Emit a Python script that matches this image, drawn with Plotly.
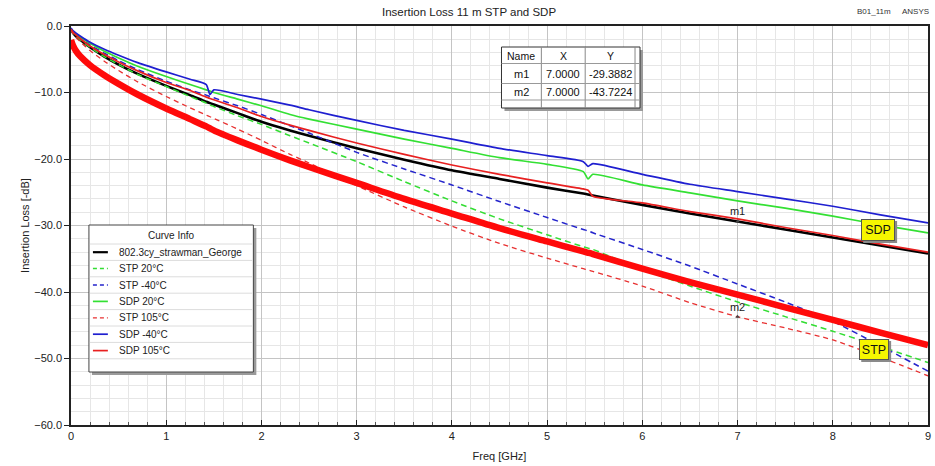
import plotly.graph_objects as go

# ---------------------------------------------------------------------------
# Insertion loss data (dB, negative = loss) sampled over frequency (GHz)
# ---------------------------------------------------------------------------
freq_ghz = [0, 0.02, 0.05, 0.1, 0.2, 0.35, 0.5, 0.7, 1.0, 1.25, 1.42, 1.46, 1.5,
            1.75, 2.0, 2.3, 2.5, 3.0, 3.5, 4.0, 4.5, 5.0, 5.38, 5.43, 5.48,
            6.0, 6.5, 7.0, 7.5, 8.0, 8.5, 9.0]

il_strawman = [-0.5, -1.0, -1.5, -2.1, -3.2, -4.6, -5.8, -7.2, -9.0, -10.4, -11.4, -11.6, -11.8,
               -13.1, -14.4, -15.7, -16.5, -18.4, -20.1, -21.7, -23.0, -24.3, -25.2, -25.35, -25.5,
               -26.9, -28.2, -29.39, -30.6, -31.8, -33.0, -34.2]
il_stp_20 = [-0.5, -1.0, -1.5, -2.1, -3.2, -4.6, -5.8, -7.3, -9.1, -10.6, -11.6, -11.9, -12.1,
             -13.5, -14.8, -16.5, -17.6, -20.4, -23.4, -26.3, -29.0, -31.4, -33.2, -33.4, -33.6,
             -36.6, -39.1, -41.5, -43.7, -45.9, -48.2, -50.6]
il_stp_m40 = [-0.4, -0.85, -1.3, -1.85, -2.85, -4.1, -5.2, -6.55, -8.3, -9.6, -10.4, -10.6, -10.8,
              -12.0, -13.3, -15.0, -16.1, -19.0, -21.5, -23.9, -26.4, -28.8, -30.6, -30.8, -31.1,
              -33.6, -36.1, -38.8, -41.5, -44.4, -48.1, -51.9]
il_sdp_20 = [-0.4, -0.8, -1.2, -1.7, -2.6, -3.8, -4.8, -6.05, -7.6, -8.8, -9.6, -9.8, -10.0,
             -11.0, -12.0, -13.3, -14.0, -15.5, -17.0, -18.4, -19.8, -20.8, -21.9, -23.0, -22.3,
             -23.9, -25.1, -26.3, -27.4, -28.6, -29.9, -31.1]
il_stp_105 = [-0.6, -1.15, -1.7, -2.4, -3.7, -5.3, -6.7, -8.4, -10.6, -12.3, -13.4, -13.65, -13.9,
              -15.5, -17.2, -19.3, -20.6, -24.0, -27.2, -30.1, -32.7, -34.9, -36.5, -36.7, -36.9,
              -39.1, -41.6, -43.7224, -45.4, -47.2, -49.8, -52.6]
il_sdp_m40 = [-0.3, -0.7, -1.05, -1.55, -2.45, -3.5, -4.4, -5.5, -6.9, -8.0, -8.8, -10.3, -9.6,
              -10.3, -11.0, -11.9, -12.6, -14.2, -15.7, -17.0, -18.4, -19.5, -20.4, -21.1, -20.7,
              -22.3, -23.8, -24.9, -26.0, -27.1, -28.4, -29.6]
il_sdp_105 = [-0.5, -0.9, -1.35, -1.95, -3.0, -4.3, -5.4, -6.75, -8.5, -9.7, -10.7, -10.9, -11.1,
              -12.3, -13.6, -14.9, -15.7, -17.6, -19.3, -20.9, -22.3, -23.6, -24.5, -24.7, -25.6,
              -26.6, -27.9, -29.0, -30.3, -31.5, -32.8, -34.0]
il_limit = [-2.1, -2.9, -3.7, -4.6, -5.9, -7.4, -8.7, -10.3, -12.4, -14.0, -15.1, -15.4, -15.7,
            -17.2, -18.6, -20.2, -21.2, -23.6, -26.0, -28.2, -30.4, -32.4, -33.9, -34.1, -34.3,
            -36.5, -38.5, -40.4, -42.3, -44.2, -46.1, -48.0]

series_names = ["802.3cy_strawman_George", "STP 20°C", "STP -40°C", "SDP 20°C",
                "STP 105°C", "SDP -40°C", "SDP 105°C"]
series_values = [il_strawman, il_stp_20, il_stp_m40, il_sdp_20,
                 il_stp_105, il_sdp_m40, il_sdp_105]

marker_names = ["m1", "m2"]
marker_freq = [7.0, 7.0]
marker_il = [-29.3882, -43.7224]

x_ticks = [0, 1, 2, 3, 4, 5, 6, 7, 8, 9]
y_ticks = [0, -10, -20, -30, -40, -50, -60]

# ---------------------------------------------------------------------------
# Styling
# ---------------------------------------------------------------------------
FONT = "Liberation Sans, Arial, sans-serif"
styles = [
    dict(color="#000000", width=2.6, dash="solid"),
    dict(color="#33dd33", width=1.5, dash="6px,4px"),
    dict(color="#2525cc", width=1.5, dash="6px,4px"),
    dict(color="#33e033", width=1.7, dash="solid"),
    dict(color="#e83030", width=1.3, dash="5px,4px"),
    dict(color="#1f1fd0", width=1.7, dash="solid"),
    dict(color="#e82020", width=1.7, dash="solid"),
]

W, H = 935, 466
PL, PR, PT, PB = 71, 931, 26, 425


def px_x(p):
    return (p - PL) / (PR - PL)


def px_y(p):
    return (PB - p) / (PB - PT)


def paper_rect(x0, y0, x1, y1, **kw):
    return dict(type="rect", xref="paper", yref="paper", layer="above",
                x0=px_x(x0), x1=px_x(x1), y0=px_y(y0), y1=px_y(y1), **kw)


def paper_line(x0, y0, x1, y1, **kw):
    return dict(type="line", xref="paper", yref="paper", layer="above",
                x0=px_x(x0), x1=px_x(x1), y0=px_y(y0), y1=px_y(y1), **kw)


fig = go.Figure()

for name, vals, st in zip(series_names, series_values, styles):
    fig.add_trace(go.Scatter(x=freq_ghz, y=vals, mode="lines", name=name,
                             line=dict(color=st["color"], width=st["width"], dash=st["dash"],
                                       shape="spline", smoothing=0.6)))

fig.add_trace(go.Scatter(x=freq_ghz, y=il_limit, mode="lines", name="IL limit",
                         line=dict(color="#ff0a0a", width=6.5, shape="spline", smoothing=0.8)))

fig.add_trace(go.Scatter(x=marker_freq, y=marker_il, mode="markers+text", text=marker_names,
                         textposition="top center", name="markers",
                         textfont=dict(family=FONT, size=11, color="#222"),
                         marker=dict(symbol="triangle-up", size=4, color="#444")))

shapes = []
annotations = []

# ---------------------------------------------------------------------------
# "Curve Info" legend panel
# ---------------------------------------------------------------------------
lg_left, lg_right, lg_top, lg_bot = 89, 254, 225, 372
lg_head = 244
lg_row = 16.4
shapes.append(paper_rect(lg_left + 3, lg_top + 3, lg_right + 3, lg_bot + 3,
                         fillcolor="#9a9a9a", line=dict(width=0)))
shapes.append(paper_rect(lg_left, lg_top, lg_right, lg_bot,
                         fillcolor="white", line=dict(color="#444", width=1)))
annotations.append(dict(text="Curve Info", xref="paper", yref="paper", showarrow=False,
                        x=px_x((lg_left + lg_right) / 2), y=px_y(235),
                        xanchor="center", yanchor="middle",
                        font=dict(family=FONT, size=10, color="#222")))
for i in range(len(series_names) + 1):
    ry = lg_head + i * lg_row
    shapes.append(paper_line(lg_left + 1, ry, lg_right - 1, ry, line=dict(color="#dcdcdc", width=1)))
for i, (name, st) in enumerate(zip(series_names, styles)):
    cy = lg_head + (i + 0.5) * lg_row
    shapes.append(paper_line(93, cy, 108, cy,
                             line=dict(color=st["color"], width=min(st["width"], 2.2),
                                       dash=st["dash"] if st["dash"] == "solid" else "4px,3px")))
    annotations.append(dict(text=name, xref="paper", yref="paper", showarrow=False,
                            x=px_x(117), y=px_y(cy), xanchor="left", yanchor="middle",
                            font=dict(family=FONT, size=10, color="#222")))

# ---------------------------------------------------------------------------
# Marker readout table
# ---------------------------------------------------------------------------
t_left, t_right, t_top, t_bot = 503, 642, 47, 108
col_edges = [543, 587, 637]
row_edges = [63.5, 83.5, 100]
shapes.append(paper_rect(t_left + 3, t_top + 3, t_right + 3, t_bot + 3,
                         fillcolor="#9a9a9a", line=dict(width=0)))
shapes.append(paper_rect(t_left, t_top, t_right, t_bot,
                         fillcolor="white", line=dict(color="#333", width=1)))
for cx in col_edges:
    shapes.append(paper_line(cx, t_top, cx, t_bot, line=dict(color="#888", width=1)))
for ry in row_edges:
    shapes.append(paper_line(t_left, ry, t_right, ry, line=dict(color="#999", width=1)))

col_centers = [523, 565, 612]
row_centers = [55.5, 73.5, 92]
header = ["Name", "X", "Y"]
rows = [header] + [[n, f"{x:.4f}", f"{y:.4f}"] for n, x, y in zip(marker_names, marker_freq, marker_il)]
for r, cells in enumerate(rows):
    for c, txt in enumerate(cells):
        annotations.append(dict(text=txt, xref="paper", yref="paper", showarrow=False,
                                x=px_x(col_centers[c]), y=px_y(row_centers[r]),
                                xanchor="center", yanchor="middle",
                                font=dict(family=FONT, size=11 if r else 10.5, color="#111")))

# ---------------------------------------------------------------------------
# Yellow group tags
# ---------------------------------------------------------------------------
for label, cx, cy, w, h in [("SDP", 881, 230, 34, 22), ("STP", 877, 349.5, 30, 21)]:
    shapes.append(paper_rect(cx - w / 2 + 2, cy - h / 2 + 2, cx + w / 2 + 2, cy + h / 2 + 2,
                             fillcolor="#8a8a8a", line=dict(width=0)))
    annotations.append(dict(text=label, xref="paper", yref="paper", showarrow=False,
                            x=px_x(cx), y=px_y(cy), xanchor="center", yanchor="middle",
                            width=w - 2, height=h - 2, bgcolor="#f6f600",
                            bordercolor="#555", borderwidth=1, borderpad=0,
                            font=dict(family=FONT, size=12.5, color="#111")))

# ---------------------------------------------------------------------------
# Title and header text
# ---------------------------------------------------------------------------
annotations.append(dict(text="Insertion Loss 11 m STP and SDP", xref="paper", yref="paper",
                        showarrow=False, x=px_x(470), y=px_y(12), xanchor="center", yanchor="middle",
                        font=dict(family=FONT, size=11.5, color="#222")))
annotations.append(dict(text="B01_11m", xref="paper", yref="paper", showarrow=False,
                        x=px_x(877), y=px_y(12), xanchor="center", yanchor="middle",
                        font=dict(family=FONT, size=8, color="#333")))
annotations.append(dict(text="ANSYS", xref="paper", yref="paper", showarrow=False,
                        x=px_x(903), y=px_y(12), xanchor="left", yanchor="middle",
                        font=dict(family=FONT, size=8, color="#333")))

fig.update_layout(
    width=W, height=H,
    margin=dict(l=PL, r=W - PR, t=PT, b=H - PB),
    paper_bgcolor="white", plot_bgcolor="white",
    font=dict(family=FONT, size=11, color="#222"),
    shapes=shapes, annotations=annotations,
    showlegend=False,
    xaxis=dict(range=[0, 9], tickvals=x_ticks, ticks="inside", ticklen=5, tickcolor="#222",
               showgrid=True, gridcolor="#c4c4c4", gridwidth=1, zeroline=False,
               minor=dict(dtick=0.2, showgrid=True, gridcolor="#e6e6e6",
                          ticks="inside", ticklen=3, tickcolor="#555"),
               showline=True, linecolor="#222", linewidth=1.5, mirror=True,
               tickfont=dict(family=FONT, size=11, color="#222"),
               title=dict(text="Freq [GHz]", font=dict(family=FONT, size=11, color="#222"), standoff=11)),
    yaxis=dict(range=[-60, 0], tickvals=y_ticks, tickformat=".1f", ticks="outside", ticklen=5,
               tickcolor="#222", showgrid=True, gridcolor="#c4c4c4", gridwidth=1, zeroline=False,
               minor=dict(dtick=2, showgrid=True, gridcolor="#e6e6e6"),
               showline=True, linecolor="#222", linewidth=1.5, mirror=True,
               tickfont=dict(family=FONT, size=11, color="#222"),
               title=dict(text="Insertion Loss [-dB]", font=dict(family=FONT, size=11, color="#222"), standoff=2)),
    xaxis2=dict(overlaying="x", side="top", anchor="y", range=[0, 9], tickvals=[2, 4, 6, 8],
                ticks="inside", ticklen=6, tickcolor="#222", showticklabels=False,
                showgrid=False, zeroline=False, showline=False),
    yaxis2=dict(overlaying="y", side="right", anchor="x", range=[-60, 0], tickvals=y_ticks,
                ticks="inside", ticklen=6, tickcolor="#222", showticklabels=False,
                showgrid=False, zeroline=False, showline=False),
)

fig.write_html("out.html")
